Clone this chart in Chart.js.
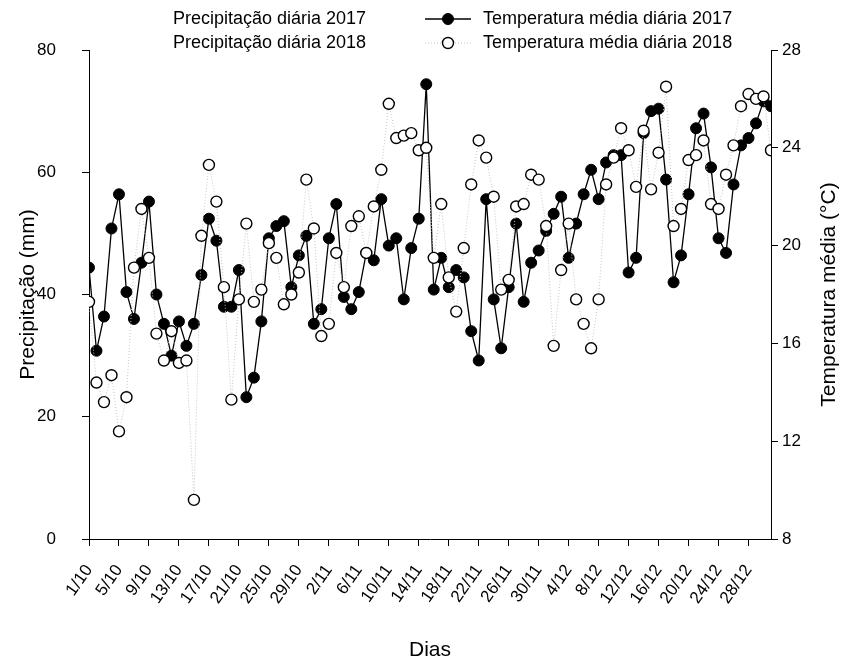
<!DOCTYPE html>
<html>
<head>
<meta charset="utf-8">
<title>Temperatura média diária</title>
<script src="https://cdn.jsdelivr.net/npm/chart.js@4.4.1/dist/chart.umd.min.js"></script>
<style>
  html, body { margin: 0; padding: 0; background: #fff; }
</style>
</head>
<body>
<canvas id="myChart" width="848" height="661"></canvas>
<script>
// tick labels on the day axis (one every 4 days, 1/10 to 28/12)
var dayTicks = ['1/10', '5/10', '9/10', '13/10', '17/10', '21/10', '25/10', '29/10',
  '2/11', '6/11', '10/11', '14/11', '18/11', '22/11', '26/11', '30/11',
  '4/12', '8/12', '12/12', '16/12', '20/12', '24/12', '28/12'];

// daily mean temperature (°C), 1/10 .. 31/12
var temp2017 = [19.1, 15.7, 17.1, 20.7, 22.1, 18.1, 17.0, 19.3, 21.8, 18.0,
  16.8, 15.5, 16.9, 15.9, 16.8, 18.8, 21.1, 20.2, 17.5, 17.5,
  19.0, 13.8, 14.6, 16.9, 20.3, 20.8, 21.0, 18.3, 19.6, 20.4,
  16.8, 17.4, 20.3, 21.7, 17.9, 17.4, 18.1, 19.7, 19.4, 21.9,
  20.0, 20.3, 17.8, 19.9, 21.1, 26.6, 18.2, 19.5, 18.3, 19.0,
  18.7, 16.5, 15.3, 21.9, 17.8, 15.8, 18.3, 20.9, 17.7, 19.3,
  19.8, 20.6, 21.3, 22.0, 19.5, 20.9, 22.1, 23.1, 21.9, 23.4,
  23.7, 23.7, 18.9, 19.5, 24.6, 25.5, 25.6, 22.7, 18.5, 19.6,
  22.1, 24.8, 25.4, 23.2, 20.3, 19.7, 22.5, 24.1, 24.4, 25.0,
  25.9, 25.7];

var temp2018 = [17.7, 14.4, 13.6, 14.7, 12.4, 13.8, 19.1, 21.5, 19.5, 16.4,
  15.3, 16.5, 15.2, 15.3, 9.6, 20.4, 23.3, 21.8, 18.3, 13.7,
  17.8, 20.9, 17.7, 18.2, 20.1, 19.5, 17.6, 18.0, 18.9, 22.7,
  20.7, 16.3, 16.8, 19.7, 18.3, 20.8, 21.2, 19.7, 21.6, 23.1,
  25.8, 24.4, 24.5, 24.6, 23.9, 24.0, 19.5, 21.7, 18.7, 17.3,
  19.9, 22.5, 24.3, 23.6, 22.0, 18.2, 18.6, 21.6, 21.7, 22.9,
  22.7, 20.8, 15.9, 19.0, 20.9, 17.8, 16.8, 15.8, 17.8, 22.5,
  23.6, 24.8, 23.9, 22.4, 24.7, 22.3, 23.8, 26.5, 20.8, 21.5,
  23.5, 23.7, 24.3, 21.7, 21.5, 22.9, 24.1, 25.7, 26.2, 26.0,
  26.1, 23.9];

// daily rainfall (mm) - no values plotted
var precip2017 = [];
var precip2018 = [];

var leftTitle = 'Precipitação (mm)';
var rightTitle = 'Temperatura média (°C)';
var xTitle = 'Dias';

var FONT = '"Liberation Sans", Arial, sans-serif';

function toPoints(arr) {
  return arr.map(function (v, i) { return { x: i, y: v }; });
}

// axis titles + two-column legend drawn by hand
var annotate = {
  id: 'annotate',
  afterDraw: function (chart) {
    var ctx = chart.ctx;
    var area = chart.chartArea;
    var midY = (area.top + area.bottom) / 2;
    ctx.save();
    ctx.fillStyle = '#000';
    ctx.font = '21px ' + FONT;
    ctx.textAlign = 'center';
    ctx.textBaseline = 'middle';

    [[28, leftTitle], [829, rightTitle]].forEach(function (t) {
      ctx.save();
      ctx.translate(t[0], midY);
      ctx.rotate(-Math.PI / 2);
      ctx.fillText(t[1], 0, 0);
      ctx.restore();
    });
    ctx.fillText(xTitle, (area.left + area.right) / 2, 650);

    // legend
    ctx.font = '18px ' + FONT;
    ctx.textAlign = 'left';
    var rowY = [19, 43];
    var rows = { bar: 0, line: 0 };
    chart.data.datasets.forEach(function (ds) {
      var kind = ds.type === 'bar' ? 'bar' : 'line';
      var y = rowY[rows[kind]++];
      if (kind === 'bar') {
        ctx.fillStyle = '#000';
        ctx.fillText(ds.label, 173, y);
        return;
      }
      ctx.save();
      ctx.strokeStyle = ds.borderColor;
      ctx.lineWidth = ds.borderWidth;
      ctx.setLineDash(ds.borderDash || []);
      ctx.beginPath();
      ctx.moveTo(425, y);
      ctx.lineTo(471, y);
      ctx.stroke();
      ctx.setLineDash([]);
      ctx.beginPath();
      ctx.arc(448, y, ds.pointRadius, 0, Math.PI * 2);
      ctx.fillStyle = ds.pointBackgroundColor;
      ctx.fill();
      ctx.lineWidth = ds.pointBorderWidth;
      ctx.strokeStyle = ds.pointBorderColor;
      ctx.stroke();
      ctx.restore();
      ctx.fillStyle = '#000';
      ctx.fillText(ds.label, 483, y);
    });
    ctx.restore();
  }
};

var tickFont = { family: FONT, size: 17 };

var ctx = document.getElementById('myChart').getContext('2d');
var myChart = new Chart(ctx, {
  type: 'line',
  data: {
    datasets: [{
      type: 'bar',
      label: 'Precipitação diária 2017',
      data: precip2017,
      yAxisID: 'y',
      backgroundColor: '#000'
    }, {
      type: 'bar',
      label: 'Precipitação diária 2018',
      data: precip2018,
      yAxisID: 'y',
      backgroundColor: '#fff'
    }, {
      label: 'Temperatura média diária 2017',
      data: toPoints(temp2017),
      yAxisID: 'y1',
      order: 1,
      borderColor: '#000',
      borderWidth: 1.3,
      pointRadius: 5.5,
      pointBackgroundColor: '#000',
      pointBorderColor: '#000',
      pointBorderWidth: 1,
      tension: 0
    }, {
      label: 'Temperatura média diária 2018',
      data: toPoints(temp2018),
      yAxisID: 'y1',
      order: 0,
      borderColor: '#c4c4c4',
      borderWidth: 1,
      borderDash: [1, 2],
      pointRadius: 5.5,
      pointBackgroundColor: '#fff',
      pointBorderColor: '#000',
      pointBorderWidth: 1.4,
      tension: 0
    }]
  },
  options: {
    responsive: false,
    animation: false,
    devicePixelRatio: 1,
    layout: { padding: { top: 50, left: 0, right: 0, bottom: 0 } },
    plugins: {
      legend: { display: false },
      tooltip: { enabled: false }
    },
    scales: {
      x: {
        type: 'linear',
        min: 0,
        max: 91,
        offset: false,
        grid: { offset: false, drawOnChartArea: false, tickLength: 7, tickColor: '#000', tickWidth: 1 },
        border: { color: '#000', width: 1 },
        ticks: {
          stepSize: 4,
          includeBounds: false,
          autoSkip: false,
          minRotation: 55,
          maxRotation: 55,
          padding: 15,
          color: '#000',
          font: tickFont,
          callback: function (v) { return v % 4 === 0 ? dayTicks[v / 4] : null; }
        },
        afterFit: function (s) { s.height = 122; }
      },
      y: {
        position: 'left',
        min: 0,
        max: 80,
        grid: { drawOnChartArea: false, tickLength: 7, tickColor: '#000', tickWidth: 1 },
        border: { color: '#000', width: 1 },
        ticks: { stepSize: 20, padding: 26, color: '#000', font: tickFont },
        afterFit: function (s) { s.width = 89; }
      },
      y1: {
        position: 'right',
        min: 8,
        max: 28,
        grid: { drawOnChartArea: false, tickLength: 7, tickColor: '#000', tickWidth: 1 },
        border: { color: '#000', width: 1 },
        ticks: { stepSize: 4, padding: 4, color: '#000', font: tickFont },
        afterFit: function (s) { s.width = 77; }
      }
    }
  },
  plugins: [annotate]
});
</script>
</body>
</html>
